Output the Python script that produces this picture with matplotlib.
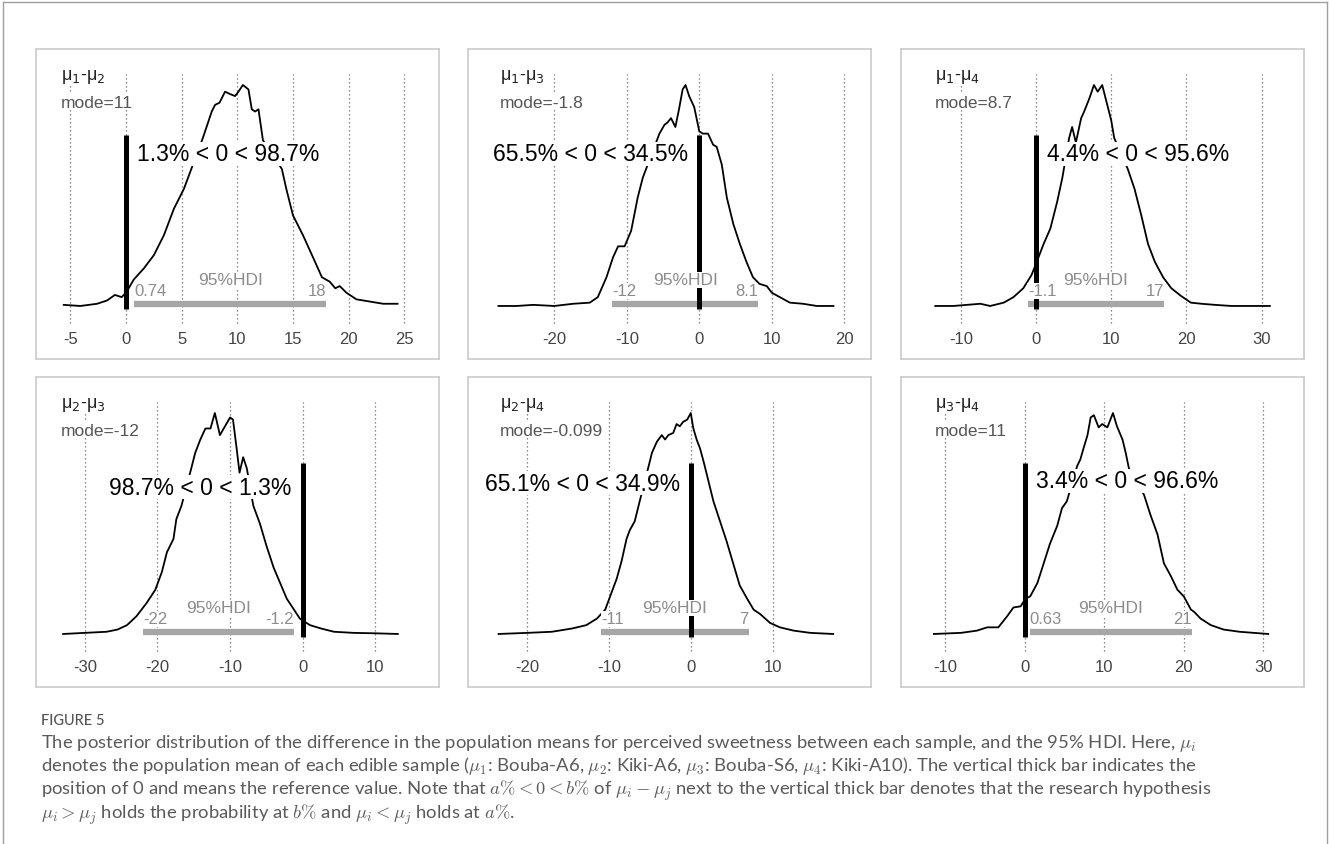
import matplotlib
matplotlib.use("Agg")
import matplotlib.pyplot as plt
from matplotlib.lines import Line2D

plt.rcParams["font.family"] = ["Liberation Sans", "DejaVu Sans"]
plt.rcParams["axes.unicode_minus"] = False

# ---------------------------------------------------------------------------
# Data (density heights are relative to each peak)
# ---------------------------------------------------------------------------
titles = ["μ$_1$-μ$_2$", "μ$_1$-μ$_3$", "μ$_1$-μ$_4$",
          "μ$_2$-μ$_3$", "μ$_2$-μ$_4$", "μ$_3$-μ$_4$"]
modes = ["11", "-1.8", "8.7", "-12", "-0.099", "11"]
pct_below = ["1.3", "65.5", "4.4", "98.7", "65.1", "3.4"]
pct_above = ["98.7", "34.5", "95.6", "1.3", "34.9", "96.6"]
hdi_lo = [0.74, -12, -1.1, -22, -11, 0.63]
hdi_hi = [18, 8.1, 17, -1.2, 7, 21]
hdi_lo_txt = ["0.74", "-12", "-1.1", "-22", "-11", "0.63"]
hdi_hi_txt = ["18", "8.1", "17", "-1.2", "7", "21"]
ticks = [[-5, 0, 5, 10, 15, 20, 25], [-20, -10, 0, 10, 20], [-10, 0, 10, 20, 30],
         [-30, -20, -10, 0, 10], [-20, -10, 0, 10], [-10, 0, 10, 20, 30]]

d12_x = [-5.6, -4.1, -2.6, -1.7, -1.0, -0.4, 0.0, 0.7, 1.6, 2.5, 3.4, 4.3, 5.2,
         6.9, 7.7, 8.0, 8.4, 8.9, 9.3, 9.8, 10.1, 10.5, 11.0, 11.3, 11.6, 11.9,
         12.3, 14.0, 14.4, 15.0, 15.9, 16.8, 17.6, 18.3, 18.8, 19.2, 19.8, 20.7,
         21.9, 23.1, 24.4]
d12_y = [0.005, 0.0, 0.01, 0.025, 0.05, 0.04, 0.06, 0.12, 0.17, 0.23, 0.32, 0.44,
         0.53, 0.76, 0.88, 0.91, 0.92, 0.97, 0.96, 0.95, 0.97, 1.0, 0.98, 0.89,
         0.88, 0.89, 0.75, 0.62, 0.53, 0.41, 0.32, 0.22, 0.13, 0.11, 0.08, 0.09,
         0.06, 0.03, 0.02, 0.01, 0.01]

d13_x = [-27.7, -25.2, -22.9, -20.0, -17.4, -15.1, -14.0, -12.8, -11.9, -11.2,
         -10.3, -9.4, -8.5, -7.8, -5.5, -4.8, -4.4, -3.9, -3.3, -2.8, -2.3, -1.9,
         -1.4, -0.7, 0.0, 0.5, 1.2, 1.9, 2.4, 3.1, 3.8, 4.7, 5.6, 6.5, 7.4, 8.3,
         9.3, 10.0, 11.1, 12.5, 14.3, 16.2, 18.5]
d13_y = [0.0, 0.0, 0.005, 0.0, 0.01, 0.015, 0.04, 0.13, 0.22, 0.27, 0.27, 0.34,
         0.49, 0.58, 0.78, 0.82, 0.83, 0.85, 0.81, 0.89, 0.98, 1.0, 0.95, 0.90,
         0.79, 0.78, 0.78, 0.73, 0.72, 0.64, 0.49, 0.37, 0.28, 0.20, 0.13, 0.10,
         0.09, 0.06, 0.04, 0.015, 0.01, 0.0, 0.0]

d14_x = [-13.4, -11.0, -7.4, -6.1, -4.3, -3.0, -1.7, -0.6, 0.1, 1.0, 1.9, 2.8, 3.5,
         4.4, 4.8, 5.3, 6.0, 6.4, 7.1, 7.7, 8.2, 8.8, 9.4, 10.0, 10.4, 12.2, 13.1,
         14.0, 14.9, 15.8, 16.9, 18.0, 19.3, 20.6, 22.0, 23.8, 26.0, 28.2, 31.1]
d14_y = [0.0, 0.0, 0.01, 0.0, 0.015, 0.04, 0.08, 0.14, 0.20, 0.28, 0.35, 0.47,
         0.58, 0.76, 0.81, 0.74, 0.85, 0.88, 0.94, 1.0, 0.97, 1.0, 0.92, 0.84,
         0.76, 0.62, 0.53, 0.41, 0.28, 0.20, 0.13, 0.08, 0.045, 0.015, 0.01,
         0.005, 0.0, 0.0, 0.0]

d23_x = [-33.0, -30.0, -27.0, -25.5, -24.2, -22.9, -21.5, -20.3, -19.4, -18.7,
         -17.8, -17.4, -16.7, -15.5, -14.8, -14.1, -13.4, -12.7, -12.1, -11.4,
         -10.7, -10.0, -9.6, -9.1, -8.7, -8.2, -7.7, -6.8, -5.9, -5.0, -4.0, -3.1,
         -2.2, -1.1, -0.4, 1.0, 2.5, 4.3, 7.0, 10.0, 13.1]
d23_y = [0.0, 0.005, 0.01, 0.02, 0.04, 0.08, 0.14, 0.20, 0.28, 0.37, 0.43, 0.52,
         0.58, 0.73, 0.82, 0.88, 0.93, 0.93, 1.0, 0.90, 0.94, 0.98, 0.97, 0.84,
         0.73, 0.80, 0.75, 0.58, 0.50, 0.40, 0.30, 0.23, 0.16, 0.105, 0.07, 0.04,
         0.025, 0.01, 0.005, 0.003, 0.0]

d24_x = [-23.5, -20.0, -17.0, -14.5, -12.8, -11.5, -10.5, -9.9, -9.1, -8.5, -7.9,
         -7.5, -6.9, -6.3, -5.2, -4.8, -4.2, -3.6, -3.2, -2.8, -2.2, -1.8, -1.4,
         -1.0, -0.5, -0.07, 0.25, 0.65, 1.06, 1.5, 2.1, 2.7, 3.5, 4.3, 5.1, 5.9,
         6.8, 7.6, 8.4, 9.6, 10.8, 12.5, 14.5, 17.3]
d24_y = [0.0, 0.005, 0.01, 0.025, 0.04, 0.07, 0.11, 0.17, 0.25, 0.33, 0.43, 0.47,
         0.51, 0.60, 0.76, 0.82, 0.87, 0.90, 0.88, 0.90, 0.91, 0.95, 0.94, 0.96,
         0.97, 1.0, 0.93, 0.88, 0.84, 0.78, 0.69, 0.60, 0.51, 0.42, 0.32, 0.22,
         0.16, 0.11, 0.09, 0.05, 0.03, 0.015, 0.005, 0.0]

d34_x = [-11.4, -8.0, -6.0, -4.7, -3.3, -2.2, -1.4, -0.5, 0.1, 0.7, 1.6, 2.4, 3.2,
         4.1, 4.7, 5.3, 6.6, 7.0, 7.4, 7.9, 8.3, 8.7, 9.3, 9.75, 10.4, 11.1, 11.6,
         12.3, 12.7, 13.1, 15.0, 15.8, 16.7, 17.5, 18.4, 19.2, 20.0, 20.9, 21.3,
         22.1, 23.4, 25.0, 27.0, 30.6]
d34_y = [0.0, 0.005, 0.015, 0.03, 0.03, 0.08, 0.12, 0.125, 0.16, 0.17, 0.23, 0.32,
         0.41, 0.49, 0.57, 0.60, 0.76, 0.79, 0.84, 0.90, 0.98, 0.99, 0.935, 0.95,
         0.935, 1.0, 0.94, 0.88, 0.82, 0.75, 0.63, 0.54, 0.45, 0.32, 0.26, 0.20,
         0.17, 0.11, 0.10, 0.07, 0.04, 0.02, 0.01, 0.0]

dens_x = [d12_x, d13_x, d14_x, d23_x, d24_x, d34_x]
dens_y = [d12_y, d13_y, d14_y, d23_y, d24_y, d34_y]

caption = [
    r"The posterior distribution of the difference in the population means for perceived sweetness between each sample, and the 95% HDI. Here, $\mu_i$",
    r"denotes the population mean of each edible sample ($\mu_1$: Bouba-A6, $\mu_2$: Kiki-A6, $\mu_3$: Bouba-S6, $\mu_4$: Kiki-A10). The vertical thick bar indicates the",
    r"position of 0 and means the reference value. Note that $a\% < 0 < b\%$ of $\mu_i - \mu_j$ next to the vertical thick bar denotes that the research hypothesis",
    r"$\mu_i > \mu_j$ holds the probability at $b\%$ and $\mu_i < \mu_j$ holds at $a\%$.",
]

# ---------------------------------------------------------------------------
# Layout (pixels of the 1331x845 canvas)
# ---------------------------------------------------------------------------
W, H = 1331, 845
col_x = [36, 468, 901]
row_top = [50, 378]
box_w, box_h = 403, 310
xlims = [(-8.09, 28.12), (-31.9, 23.68), (-17.96, 35.64),
         (-36.73, 18.77), (-27.23, 21.91), (-15.53, 35.1)]
title_dx = [25, 32, 34]
label_y = [0.688, 0.688, 0.688, 0.664, 0.683, 0.694]

fig = plt.figure(figsize=(W / 100, H / 100), dpi=100)

white = dict(boxstyle="square,pad=0.02", fc="white", ec="none")

for i in range(6):
    r, c = divmod(i, 3)
    ax = fig.add_axes([col_x[c] / W, 1 - (row_top[r] + box_h) / H, box_w / W, box_h / H])
    ax.set_xlim(*xlims[i])
    ax.set_ylim(-0.240, 1.163)
    for s in ax.spines.values():
        s.set_color("#cfcfcf")
        s.set_linewidth(1.3)
    ax.set_yticks([])
    ax.set_xticks(ticks[i])
    ax.tick_params(axis="x", length=0, pad=-20, labelsize=12, labelcolor="#444444")

    ax.vlines(ticks[i], -0.075, 1.05, colors="#666666", linestyles=(0, (1, 2.2)),
              lw=0.9, zorder=1)
    ax.plot(dens_x[i], dens_y[i], color="black", lw=1.3, zorder=2)
    ax.plot([hdi_lo[i], hdi_hi[i]], [0.009, 0.009], color="#a6a6a6", lw=4.5,
            solid_capstyle="butt", zorder=3)
    ax.plot([0, 0], [-0.014, 0.774], color="black", lw=3.6,
            solid_capstyle="butt", zorder=4)

    ax.text(hdi_lo[i], 0.069, hdi_lo_txt[i], ha="left", va="center", fontsize=12,
            color="#8c8c8c", bbox=white, zorder=5)
    ax.text(hdi_hi[i], 0.069, hdi_hi_txt[i], ha="right", va="center", fontsize=12,
            color="#8c8c8c", bbox=white, zorder=5)
    ax.text((hdi_lo[i] + hdi_hi[i]) / 2, 0.119, "95%HDI", ha="center", va="center",
            fontsize=12.5, color="#8c8c8c", bbox=white, zorder=5)

    right = float(pct_above[i]) > float(pct_below[i])
    ax.annotate(f"{pct_below[i]}% < 0 < {pct_above[i]}%", xy=(0, label_y[i]),
                xytext=(8 if right else -8, 0), textcoords="offset points",
                ha="left" if right else "right", va="center", fontsize=16.5,
                color="black", bbox=white, zorder=6)

    fx = title_dx[c] / box_w
    ax.text(fx, 0.913, titles[i], transform=ax.transAxes, ha="left", va="center",
            fontsize=13, color="#222222", bbox=white, zorder=6)
    ax.text(fx, 0.829, f"mode={modes[i]}", transform=ax.transAxes, ha="left",
            va="center", fontsize=12.5, color="#555555", bbox=white, zorder=6)

# outer frame
frame = dict(color="#a0a0a0", lw=1.0, transform=fig.transFigure)
fig.add_artist(Line2D([3 / W, 3 / W], [0, 1 - 3 / H], **frame))
fig.add_artist(Line2D([3 / W, 1327 / W], [1 - 3 / H, 1 - 3 / H], **frame))
fig.add_artist(Line2D([1327 / W, 1327 / W], [0, 1 - 3 / H], **frame))

# caption
fig.text(41 / W, 1 - 721 / H, "FIGURE 5", ha="left", va="center", fontsize=10.5,
         color="#555555", family=["Lato", "DejaVu Sans"], fontweight="medium")
for k, line in enumerate(caption):
    fig.text(41 / W, 1 - (748 + 23.5 * k) / H, line, ha="left", va="baseline",
             fontsize=13.3, color="#5a5a5a", family=["Lato", "DejaVu Sans"],
             math_fontfamily="cm")

fig.savefig("out.png", dpi=100)
